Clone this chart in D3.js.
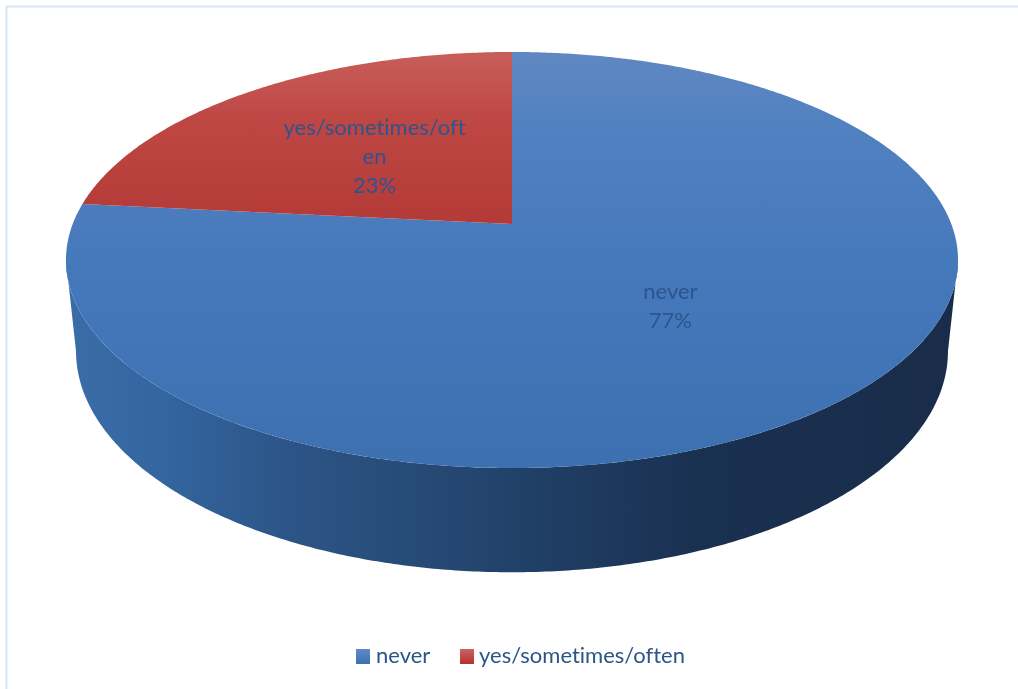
<!DOCTYPE html>
<html lang="en">
<head>
<meta charset="UTF-8">
<title>Pie</title>
<script src="https://d3js.org/d3.v7.min.js"></script>
<style>
    html, body { margin: 0; padding: 0; background: #fff; }
    svg { display: block; filter: blur(0.4px); }
    text { font-family: Lato, "Open Sans", sans-serif; font-variant-ligatures: none; }
</style>
</head>
<body>
<script>
const categories = ["never", "yes/sometimes/often"];
const values = [76.6, 23.4];
const labelLines = [["never"], ["yes/sometimes/oft", "en"]];

const width = 1018;
const height = 689;
const k = 0.173; // perspective of the tilted disc

const svg = d3.select("body").append("svg")
    .attr("width", width)
    .attr("height", height);

const defs = svg.append("defs");

function gradient(id, x2, y2, units, stops) {
    const g = defs.append("linearGradient")
        .attr("id", id)
        .attr("gradientUnits", units.length ? "userSpaceOnUse" : "objectBoundingBox")
        .attr("x1", units[0] || 0).attr("y1", units[1] || 0)
        .attr("x2", x2).attr("y2", y2);
    stops.forEach(s => g.append("stop").attr("offset", s[0]).attr("stop-color", s[1]));
}

gradient("topBlue", 0, 468, [0, 52], [[0, "#6088c2"], [0.2, "#5080c0"], [0.5, "#4679bc"], [1, "#3c70b0"]]);
gradient("topRed", 0, 225, [0, 52], [[0, "#c85e5a"], [0.4, "#be4643"], [1, "#b33a37"]]);
gradient("side", 948, 0, [76, 0], [[0, "#3a6ca8"], [0.1, "#33659f"], [0.25, "#2c5486"], [0.4, "#264a75"], [0.55, "#1f3d63"], [0.72, "#1a3050"], [1, "#192d4a"]]);
gradient("swBlue", 0, 1, [], [[0, "#5f8ac4"], [1, "#3d71b2"]]);
gradient("swRed", 0, 1, [], [[0, "#cb6460"], [1, "#b3322f"]]);

// top face and bottom rim: unit disc through a perspective
function projector(cx, cy, a, b) {
    return (angle, r) => {
        const u = r * Math.sin(angle);
        const v = r * Math.cos(angle);
        const w = 1 + k * v;
        return [cx + a * u / w, cy - b * v / w];
    };
}
const topFace = projector(512, 224, 439.3, 201.8);
const bottomFace = projector(512, 313, 429.4, 214.4);

const line = d3.line().curve(d3.curveLinear);
const step = Math.PI / 360;

function rim(project, from, to) {
    const n = Math.ceil(Math.abs(to - from) / step);
    return d3.range(n + 1).map(i => project(from + (to - from) * i / n, 1));
}

// chart frame, only top and left
svg.append("path")
    .attr("d", line([[6.5, height], [6.5, 6.5], [width, 6.5]]))
    .attr("fill", "none")
    .attr("stroke", "#d6e4f4")
    .attr("stroke-width", 2);

// wall of the disc
const aRight = Math.acos(-k);
const aLeft = 2 * Math.PI - aRight;
svg.append("path")
    .attr("d", line(rim(topFace, aRight, aLeft).concat(rim(bottomFace, aLeft, aRight))) + "Z")
    .attr("fill", "url(#side)");

// slices
const arcs = d3.pie().sort(null)(values);
const fills = ["url(#topBlue)", "url(#topRed)"];

svg.append("g").selectAll("path")
    .data(arcs)
    .join("path")
    .attr("d", d => line([topFace(0, 0)].concat(rim(topFace, d.startAngle, d.endAngle))) + "Z")
    .attr("fill", (d, i) => fills[i]);

// data labels
const fmt = d3.format(".0%");
const total = d3.sum(values);
const lineHeight = 29;

const label = svg.append("g").selectAll("text")
    .data(arcs)
    .join("text")
    .attr("text-anchor", "middle")
    .attr("font-size", 22)
    .attr("fill", "#2c5590");

label.each(function (d, i) {
    const p = topFace((d.startAngle + d.endAngle) / 2, 0.5);
    const lines = labelLines[i].concat(fmt(d.value / total));
    const first = p[1] + 10 - (lines.length - 1) / 2 * lineHeight;
    d3.select(this).selectAll("tspan")
        .data(lines)
        .join("tspan")
        .attr("x", p[0] + 1)
        .attr("y", (l, j) => first + j * lineHeight)
        .text(l => l);
});

// legend
const legendX = d3.scaleOrdinal().domain(categories).range([356, 460]);
const swatches = ["url(#swBlue)", "url(#swRed)"];

const legend = svg.append("g").selectAll("g")
    .data(categories)
    .join("g")
    .attr("transform", d => `translate(${legendX(d)},649)`);

legend.append("rect")
    .attr("width", 14)
    .attr("height", 15)
    .attr("fill", (d, i) => swatches[i]);

legend.append("text")
    .attr("x", (d, i) => i === 0 ? 20 : 19)
    .attr("y", 14)
    .attr("font-size", 22)
    .attr("fill", "#2b5587")
    .text(d => d);
</script>
</body>
</html>
